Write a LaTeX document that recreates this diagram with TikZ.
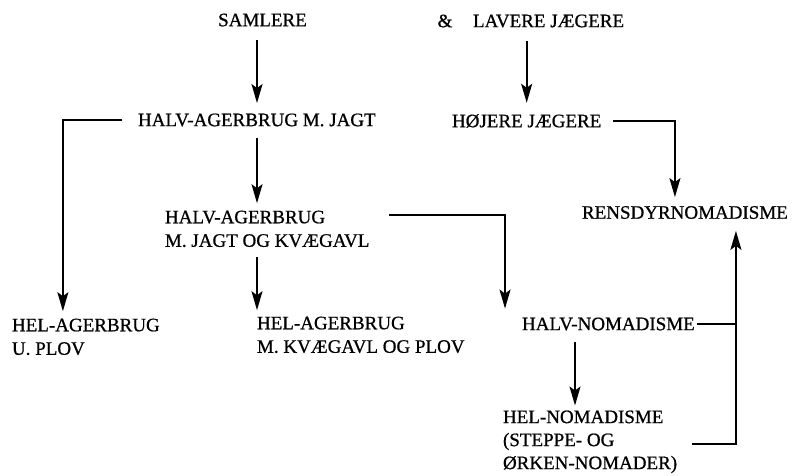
\documentclass[tikz,border=0pt]{standalone}
\usepackage{fontspec}
\setmainfont{Liberation Serif}[FakeBold=0.8]
\usepackage{tikz}
\usetikzlibrary{arrows.meta}

\tikzset{
  lbl/.style={inner sep=0pt, outer sep=0pt, font=\fontsize{19}{23.5}\selectfont, align=left},
  lnk/.style={line width=1.8pt, line join=miter},
  arr/.style={lnk, -{Stealth[length=19pt,width=11pt,inset=4pt]}, shorten <=12pt, shorten >=9pt}
}

\begin{document}
\begin{tikzpicture}[x=1pt,y=1pt]
\useasboundingbox (0,0) rectangle (805,475);

% Draw top row
\node [lbl] (samlere) at (262.5,455) {SAMLERE};
\node [lbl] (amp) at (445,454) {\&};
\node [lbl, anchor=west] (lavere) at (473,454) {LAVERE JÆGERE};

% Draw second row
\node [lbl, anchor=west] (halvjagt) at (138,355) {HALV-AGERBRUG M. JAGT};
\node [lbl, anchor=west] (hojere) at (452,354) {HØJERE JÆGERE};

% Draw middle row
\node [lbl, anchor=north west] (halvkvaeg) at (165,264.3) {HALV-AGERBRUG\\M. JAGT OG KVÆGAVL};
\node [lbl, anchor=west] (rens) at (582,262.5) {RENSDYRNOMADISME};

% Draw lower rows
\node [lbl, anchor=north west] (helplov) at (12,156.3) {HEL-AGERBRUG\\U. PLOV};
\node [lbl, anchor=north west] (helkvaeg) at (257,158.3) {HEL-AGERBRUG\\M. KVÆGAVL OG PLOV};
\node [lbl, anchor=west] (halvnom) at (522,151) {HALV-NOMADISME};
\node [lbl, anchor=north west, font=\fontsize{19}{23}\selectfont] (helnom) at (503,64.5) {HEL-NOMADISME\\(STEPPE- OG\\ØRKEN-NOMADER)};

% Draw arrows down the left half
\draw [arr, shorten <=13.5pt, shorten >=10.5pt] ([xshift=-5.5pt]samlere.south) -- ([xshift=-5.5pt]samlere.south |- halvjagt.north);
\draw [arr, shorten <=16pt, shorten >=7.5pt] (halvjagt.west) -| ([xshift=-23pt]helplov.north);
\draw [arr, shorten >=7.5pt] (halvjagt.south -| helkvaeg.west) -- (halvkvaeg.north -| helkvaeg.west);
\draw [arr, shorten <=10pt, shorten >=6.5pt] (halvkvaeg.south -| helkvaeg.west) -- (helkvaeg.north west);
\draw [arr, shorten <=20pt] ([yshift=-4pt]halvkvaeg.north east) -| ([xshift=-17pt]halvnom.north west);

% Draw arrows down the right half
\draw [arr, shorten <=13.5pt, shorten >=11.5pt] (lavere.south -| hojere.north) -- (hojere.north);
\draw [arr] (hojere.east) -| ([xshift=-10pt]rens.north);
\draw [arr, shorten >=5pt] ([xshift=72pt]helnom.north west |- halvnom.south) -- ([xshift=72pt]helnom.north west);

% Draw return line up to rensdyrnomadisme
\draw [arr, shorten <=2pt, shorten >=12pt] (halvnom.east) -| ([xshift=51pt]rens.south);
\draw [lnk, shorten <=15pt] ([yshift=-2pt]helnom.east) -| ([xshift=51pt]rens.south |- halvnom.east);

\end{tikzpicture}
\end{document}
